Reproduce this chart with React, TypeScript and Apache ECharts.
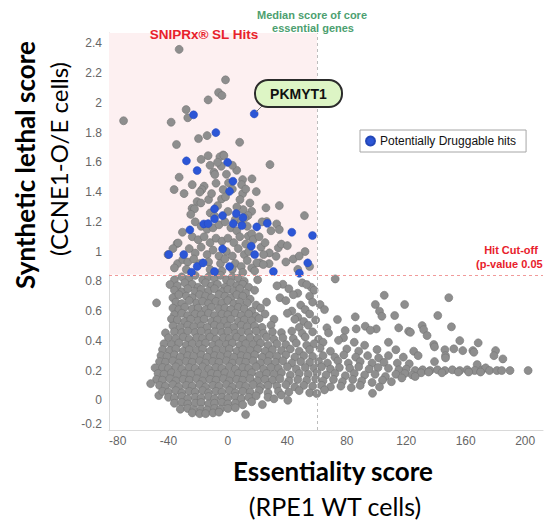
import React, { useEffect, useRef } from "react";
import * as echarts from "echarts";

const xTicks = [-80, -40, 0, 40, 80, 120, 160, 200];
const yTicks = [-0.2, 0, 0.2, 0.4, 0.6, 0.8, 1, 1.2, 1.4, 1.6, 1.8, 2, 2.2, 2.4];
const hitCutoff = 0.845;
const medianCoreEssential = 60;
const xRange = [-80, 212];
const yRange = [-0.2, 2.47];

// Potentially druggable hits (blue)
const druggableHits = [
  [17.7, 1.926], [-23.1, 1.92], [-8.1, 1.8], [-27.9, 1.61], [-0.2, 1.6], [-20.7, 1.545], [3.4, 1.473],
  [1.1, 1.405], [-9, 1.287], [5.6, 1.256], [-3.6, 1.242], [-9, 1.22], [10.1, 1.229], [26.5, 1.19],
  [-16.2, 1.186], [-13.3, 1.188], [3.6, 1.188], [9.4, 1.175], [19.4, 1.166], [43, 1.13], [56.9, 1.108],
  [-25.6, 1.146], [15.7, 1.036], [-3.6, 1.018], [18, 0.98], [-39.8, 0.98], [-29.7, 0.98], [-20.7, 0.9],
  [-16.7, 0.924], [-24.5, 0.861], [-9, 0.866], [1.1, 0.9], [30.6, 0.866], [48.1, 0.854], [53.7, 0.924],
];

// Genes above the hit cut-off (grey)
const grayUpper = [
  [-32.8, 2.36], [-70.2, 1.88], [-38.2, 1.87], [-28.1, 1.955], [-27, 1.9], [-13.3, 2.02], [-6.3, 2.07], [-4, 2.05],
  [-1.6, 2.155], [-19.8, 1.76], [-14, 1.78], [-34.6, 1.72], [7.9, 1.735], [-3.2, 1.65], [-18, 1.62], [-13.3, 1.645],
  [-5.4, 1.637], [-2.7, 1.646], [-4.5, 1.574], [-9.4, 1.533], [-8.8, 1.518], [-32.8, 1.5], [5.9, 1.547], [28.3, 1.585],
  [9.9, 1.484], [16.2, 1.489], [0.4, 1.462], [-16, 1.44], [-17.5, 1.417], [-18.9, 1.4], [-36.2, 1.417], [-29.5, 1.39],
  [-3.2, 1.417], [9.2, 1.45], [9.9, 1.39], [19.1, 1.403], [-4.3, 1.354], [-1.6, 1.368], [8.1, 1.35], [14.8, 1.327],
  [-20.7, 1.336], [-18.2, 1.327], [-24.1, 1.291], [-22.5, 1.287], [-6.9, 1.309], [-11.9, 1.26], [10.3, 1.282], [16, 1.271],
  [25.6, 1.294], [34.6, 1.309], [13.5, 1.242], [51.5, 1.242], [4.9, 1.215], [26.1, 1.202], [32.8, 1.186], [34.6, 1.148],
  [-30.6, 1.13], [-40.3, 0.98], [51.9, 1.0], [21.6, 0.924], [27.7, 0.919], [32.4, 0.968], [22.3, 1.029], [33.9, 1.025],
  [27.9, 0.991], [-33.9, 0.919], [-34.2, 1.054], [-30.4, 0.946], [-33.5, 1.058], [19.4, 0.924], [23.8, 0.913], [11.5, 1.227],
  [13.7, 1.103], [-22, 1.2], [-18, 1.17], [-14, 1.15], [-10, 1.16], [-6, 1.18], [-2, 1.2], [2, 1.16], [6, 1.14], [9, 1.2],
  [13, 1.17], [16, 1.12], [-24, 1.1], [-20, 1.08], [-16, 1.1], [-12, 1.06], [-8, 1.09], [-4, 1.07], [0, 1.09], [4, 1.06],
  [8, 1.1], [12, 1.05], [17, 1.08], [21, 1.1], [25, 1.06], [-26, 1.02], [-22, 0.99], [-18, 1.03], [-14, 0.98], [-10, 1.01],
  [-6, 0.97], [-1, 1.0], [3, 0.97], [7, 1.02], [11, 0.98], [14, 1.0], [24, 0.98], [-27, 0.93], [-23, 0.95], [-19, 0.92],
  [-13, 0.93], [-5, 0.92], [-2, 0.95], [5, 0.92], [9, 0.9], [13, 0.94], [16, 0.89], [-28, 0.88], [-12, 0.88], [-4, 0.87],
  [3, 0.88], [10, 0.86], [18, 0.87], [-36, 0.89], [39, 0.93], [44, 0.95], [36, 1.05], [29, 1.14], [-37, 1.02], [-25, 1.25],
  [-9, 1.24], [0, 1.27], [6, 1.3], [-13, 1.35], [3, 1.42], [-8, 1.46], [-11, 1.39], [12, 1.42], [-1, 1.52], [3, 1.58],
  [-24, 1.45], [-12, 1.58], [-7, 1.6], [23, 1.2], [40, 1.04], [48, 0.97], [55, 0.9], [47, 0.88],
];

// Upper part of the main cloud (about 0.5 to 0.85)
const grayCloudTop = [
  [-36, 0.81], [-31, 0.83], [-26, 0.82], [-22, 0.84], [-17, 0.81], [-13, 0.83], [-9, 0.82], [-5, 0.84], [-1, 0.81], [3, 0.83],
  [7, 0.82], [11, 0.8], [20, 0.81], [37, 0.78], [50, 0.79], [56, 0.76], [72.2, 0.816],
  [-39, 0.778], [-34, 0.77], [-29, 0.79], [-24, 0.78], [-20, 0.76], [-15, 0.79], [-11, 0.77], [-7, 0.78], [-2, 0.76], [2, 0.79],
  [6, 0.77], [10, 0.78], [14, 0.76], [33, 0.77], [53, 0.778], [58, 0.74],
  [-36, 0.74], [-31, 0.73], [-27, 0.75], [-22, 0.73], [-18, 0.745], [-13, 0.735], [-9, 0.75], [-4, 0.73], [0, 0.745], [4, 0.735],
  [8, 0.75], [12, 0.72], [18, 0.74], [41, 0.75], [47, 0.72],
  [-37, 0.69], [-33, 0.71], [-28, 0.7], [-24, 0.69], [-19, 0.71], [-15, 0.7], [-11, 0.69], [-6, 0.71], [-2, 0.7], [2, 0.69],
  [6, 0.71], [10, 0.7], [15, 0.68], [35, 0.69], [44, 0.71], [55, 0.7], [105.2, 0.706], [148.6, 0.69],
  [-48, 0.655], [-35, 0.66], [-31, 0.65], [-26, 0.67], [-21, 0.655], [-17, 0.665], [-13, 0.65], [-8, 0.665], [-4, 0.655], [0, 0.67],
  [4, 0.65], [8, 0.66], [13, 0.655], [19, 0.64], [26, 0.66], [39, 0.67], [49, 0.64], [57, 0.66], [62, 0.644],
  [99.2, 0.644], [118.9, 0.644],
  [-37, 0.62], [-33, 0.61], [-29, 0.625], [-24, 0.615], [-20, 0.62], [-15, 0.61], [-11, 0.625], [-6, 0.615], [-2, 0.62], [2, 0.61],
  [7, 0.625], [11, 0.615], [16, 0.6], [22, 0.62], [43, 0.6], [52, 0.61], [65, 0.61], [102, 0.599],
  [-36, 0.575], [-31, 0.585], [-27, 0.57], [-22, 0.58], [-18, 0.575], [-13, 0.585], [-9, 0.57], [-4, 0.58], [0, 0.575], [5, 0.585],
  [9, 0.57], [14, 0.58], [19, 0.565], [25, 0.58], [40, 0.585], [47, 0.56], [55, 0.58], [85.7, 0.561],
  [-38, 0.547], [-34, 0.54], [-29, 0.53], [-25, 0.545], [-20, 0.535], [-16, 0.545], [-11, 0.53], [-7, 0.54], [-2, 0.535], [2, 0.545],
  [7, 0.53], [11, 0.54], [16, 0.535], [21, 0.55], [31, 0.545], [45, 0.545], [51, 0.53], [59, 0.54],
  [73.7, 0.543], [103.6, 0.565], [112.2, 0.57], [141.2, 0.57],
];

// Middle part of the main cloud (about 0.2 to 0.5)
const grayCloudMid = [
  [-37, 0.5], [-32, 0.49], [-27, 0.505], [-23, 0.495], [-18, 0.5], [-14, 0.49], [-9, 0.505], [-5, 0.495], [0, 0.5], [4, 0.49],
  [9, 0.505], [13, 0.495], [18, 0.5], [23, 0.49], [29, 0.505], [48, 0.49], [54, 0.505], [66.6, 0.487],
  [78.9, 0.469], [86.3, 0.48], [92.4, 0.498], [99.8, 0.48], [114.9, 0.487], [130.7, 0.502], [150.4, 0.494],
  [-42, 0.453], [-36, 0.46], [-31, 0.455], [-27, 0.465], [-22, 0.455], [-18, 0.465], [-13, 0.45], [-9, 0.46], [-4, 0.455], [0, 0.465],
  [5, 0.45], [9, 0.46], [14, 0.455], [19, 0.465], [24, 0.45], [30, 0.46], [36, 0.455], [43, 0.465], [50, 0.45], [57, 0.46],
  [67.7, 0.453], [95.8, 0.471], [121.6, 0.464], [131.7, 0.475],
  [-40, 0.42], [-35, 0.415], [-30, 0.425], [-26, 0.41], [-21, 0.42], [-17, 0.415], [-12, 0.425], [-8, 0.41], [-3, 0.42], [1, 0.415],
  [6, 0.425], [10, 0.41], [15, 0.42], [20, 0.415], [26, 0.425], [31, 0.41], [37, 0.42], [44, 0.415], [52, 0.425], [61, 0.41],
  [77.8, 0.42], [134, 0.435], [122.8, 0.457],
  [-43, 0.38], [-38, 0.375], [-33, 0.385], [-28, 0.37], [-24, 0.38], [-19, 0.375], [-15, 0.385], [-10, 0.37], [-6, 0.38], [-1, 0.375],
  [3, 0.385], [8, 0.37], [12, 0.38], [17, 0.375], [22, 0.385], [27, 0.37], [33, 0.38], [39, 0.375], [46, 0.385], [53, 0.37],
  [58, 0.38], [64, 0.39], [74.4, 0.403], [85, 0.39], [92, 0.37], [108, 0.39], [138.5, 0.375], [156, 0.401], [168.4, 0.386],
  [-44, 0.34], [-39, 0.335], [-35, 0.345], [-30, 0.33], [-26, 0.34], [-21, 0.335], [-17, 0.345], [-12, 0.33], [-8, 0.34], [-3, 0.335],
  [1, 0.345], [6, 0.33], [10, 0.34], [15, 0.335], [20, 0.345], [25, 0.33], [30, 0.34], [36, 0.335], [42, 0.345], [48, 0.33],
  [55, 0.34], [62, 0.35], [69, 0.33], [80, 0.345], [88, 0.33], [100.3, 0.341], [113, 0.34], [125, 0.33], [139, 0.359], [146, 0.34],
  [152, 0.346], [158, 0.334], [164.8, 0.334], [180.1, 0.334],
  [-45, 0.3], [-41, 0.295], [-36, 0.305], [-32, 0.29], [-27, 0.3], [-23, 0.295], [-18, 0.305], [-14, 0.29], [-9, 0.3], [-5, 0.295],
  [0, 0.305], [4, 0.29], [9, 0.3], [13, 0.295], [18, 0.305], [23, 0.29], [28, 0.3], [33, 0.295], [39, 0.305], [45, 0.29],
  [51, 0.3], [57, 0.295], [64, 0.3], [72, 0.29], [78, 0.305], [86, 0.29], [94, 0.3], [101.4, 0.285], [108, 0.3], [118, 0.29],
  [128, 0.3], [146.4, 0.3], [165.5, 0.323], [179, 0.3], [185, 0.278],
  [-46, 0.26], [-42, 0.255], [-37, 0.265], [-33, 0.25], [-28, 0.26], [-24, 0.255], [-19, 0.265], [-15, 0.25], [-10, 0.26], [-6, 0.255],
  [-1, 0.265], [3, 0.25], [8, 0.26], [12, 0.255], [17, 0.265], [22, 0.25], [27, 0.26], [32, 0.255], [37, 0.265], [43, 0.25],
  [49, 0.26], [55, 0.255], [61, 0.26], [67, 0.25], [74, 0.265], [81, 0.25], [89, 0.26], [97, 0.25], [105, 0.255], [114, 0.25],
  [122, 0.245], [139, 0.26], [146.4, 0.285], [167.7, 0.24],
  [-49, 0.218], [-44, 0.22], [-40, 0.215], [-35, 0.225], [-31, 0.21], [-26, 0.22], [-22, 0.215], [-17, 0.225], [-13, 0.21], [-8, 0.22],
  [-4, 0.215], [1, 0.225], [5, 0.21], [10, 0.22], [14, 0.215], [19, 0.225], [24, 0.21], [29, 0.22], [34, 0.215], [40, 0.225],
  [46, 0.21], [52, 0.22], [58, 0.215], [63, 0.225], [69, 0.21], [75, 0.22], [82, 0.215], [88, 0.225], [95, 0.21], [101, 0.22],
  [108, 0.215], [115, 0.205], [120, 0.21], [126, 0.2], [131, 0.205], [136, 0.2], [141, 0.205], [146, 0.2], [151, 0.205], [156, 0.2],
  [161, 0.205], [166, 0.2], [171, 0.205], [173.4, 0.218], [176, 0.2], [181, 0.2], [184.2, 0.2], [189.8, 0.2], [202, 0.2],
];

// Lower part of the main cloud (below 0.2)
const grayCloudLow = [
  [-47, 0.18], [-43, 0.175], [-38, 0.185], [-34, 0.17], [-29, 0.18], [-25, 0.175], [-20, 0.185], [-16, 0.17], [-11, 0.18], [-7, 0.175],
  [-2, 0.185], [2, 0.17], [7, 0.18], [11, 0.175], [16, 0.185], [21, 0.17], [26, 0.18], [31, 0.175], [36, 0.185], [42, 0.17],
  [48, 0.18], [54, 0.175], [60, 0.185], [66, 0.17], [72, 0.18], [79, 0.165], [85, 0.18], [92, 0.17], [99, 0.175], [106, 0.16],
  [113, 0.175], [119, 0.18], [124, 0.17], [130, 0.185], [135, 0.19], [144, 0.185], [155, 0.19], [162, 0.19], [170, 0.19],
  [-48, 0.14], [-44, 0.135], [-39, 0.145], [-35, 0.13], [-30, 0.14], [-26, 0.135], [-21, 0.145], [-17, 0.13], [-12, 0.14], [-8, 0.135],
  [-3, 0.145], [1, 0.13], [6, 0.14], [10, 0.135], [15, 0.145], [20, 0.13], [25, 0.14], [30, 0.135], [35, 0.145], [41, 0.13],
  [47, 0.14], [53, 0.135], [59, 0.145], [64, 0.13], [71, 0.14], [77, 0.125], [84, 0.14], [90, 0.13], [97, 0.12], [104, 0.135],
  [110, 0.125], [117, 0.15], [126, 0.16],
  [-52, 0.112], [-46, 0.1], [-42, 0.095], [-37, 0.105], [-33, 0.09], [-28, 0.1], [-24, 0.095], [-19, 0.105], [-15, 0.09], [-10, 0.1],
  [-6, 0.095], [-1, 0.105], [3, 0.09], [8, 0.1], [12, 0.095], [17, 0.105], [22, 0.09], [27, 0.1], [33, 0.095], [39, 0.105],
  [45, 0.09], [51, 0.1], [57, 0.095], [63, 0.1], [69, 0.09], [76, 0.095], [83, 0.085], [89, 0.1], [102, 0.09],
  [-46.5, 0.032], [-44, 0.06], [-40, 0.055], [-35, 0.065], [-31, 0.05], [-26, 0.06], [-22, 0.055], [-17, 0.065], [-13, 0.05], [-8, 0.06],
  [-4, 0.055], [1, 0.065], [5, 0.05], [10, 0.06], [15, 0.055], [21, 0.065], [27, 0.05], [34, 0.06], [41, 0.055], [48, 0.065],
  [55, 0.05], [59.8, 0.045], [97.3, 0.047], [65, 0.07],
  [-40, 0.02], [-36, 0.015], [-31, 0.025], [-27, 0.01], [-22, 0.02], [-18, 0.015], [-13, 0.025], [-9, 0.01], [-4, 0.02], [0, 0.015],
  [5, 0.025], [9, 0.01], [14, 0.02], [19, 0.03], [27, 0.02], [36, 0.035], [40.3, 0.0], [31, 0.01],
  [-36, -0.02], [-31, -0.015], [-27, -0.025], [-22, -0.02], [-18, -0.015], [-13, -0.025], [-9, -0.02], [-4, -0.015], [0, -0.025],
  [5, -0.02], [10, -0.03], [23.2, -0.029], [16, -0.01],
  [-32, -0.06], [-27, -0.055], [-23, -0.065], [-18, -0.06], [-14, -0.065], [-9, -0.055], [-5, -0.06], [0, -0.055], [5, -0.05],
  [11.9, -0.096], [-24, -0.085], [-19, -0.09], [-15, -0.09], [-10, -0.085], [-6, -0.08],
];

const allGray = [...grayUpper, ...grayCloudTop, ...grayCloudMid, ...grayCloudLow];

const RED = "#e8212b";
const GREEN = "#4d9f70";
const TICK_FONT = "Liberation Sans";

export default function App() {
  const ref = useRef<HTMLDivElement>(null);

  useEffect(() => {
    const chart = echarts.init(ref.current!, null, { renderer: "svg" });
    chart.setOption({
      animation: false,
      backgroundColor: "#ffffff",
      grid: { left: 109, right: 4, top: 33, bottom: 92 },
      legend: {
        data: [{ name: "Potentially Druggable hits", icon: "circle" }],
        left: 360,
        top: 130,
        selectedMode: false,
        borderColor: "#a6a6a6",
        borderWidth: 1,
        padding: [5, 10, 5, 5],
        itemWidth: 9,
        itemHeight: 9,
        itemGap: 6,
        textStyle: { fontSize: 12, color: "#111", fontFamily: TICK_FONT },
      },
      xAxis: {
        type: "value",
        min: xRange[0],
        max: xRange[1],
        interval: 40,
        splitLine: { show: false },
        axisTick: { show: false },
        axisLine: { show: true, onZero: false, lineStyle: { color: "#d9d9d9" } },
        axisLabel: {
          customValues: xTicks,
          color: "#666666",
          fontSize: 12,
          fontFamily: TICK_FONT,
          margin: 5,
          alignMinLabel: "left",
        },
      },
      yAxis: {
        type: "value",
        min: yRange[0],
        max: yRange[1],
        splitLine: { show: false },
        axisTick: { show: false },
        axisLine: { show: true, onZero: false, lineStyle: { color: "#d9d9d9" } },
        axisLabel: {
          customValues: yTicks,
          color: "#666666",
          fontSize: 12,
          fontFamily: TICK_FONT,
          margin: 7,
          verticalAlignMinLabel: "bottom",
        },
      },
      series: [
        {
          name: "genes",
          type: "scatter",
          symbol: "circle",
          symbolSize: 8,
          z: 2,
          silent: true,
          emphasis: { disabled: true },
          itemStyle: { color: "#8e8e8e", borderColor: "#767676", borderWidth: 0.6, opacity: 1 },
          data: allGray,
          markArea: {
            silent: true,
            itemStyle: { color: "#fdf0f1" },
            data: [[{ coord: [xRange[0], hitCutoff] }, { coord: [medianCoreEssential, yRange[1]] }]],
          },
          markLine: {
            silent: true,
            symbol: ["none", "none"],
            label: { show: false },
            data: [
              { xAxis: medianCoreEssential, lineStyle: { color: "#bdbdbd", type: [3, 3], width: 1 } },
              { yAxis: hitCutoff, lineStyle: { color: "#f19a9a", type: [3, 3], width: 1 } },
            ],
          },
        },
        {
          name: "Potentially Druggable hits",
          type: "scatter",
          symbol: "circle",
          symbolSize: 8,
          z: 3,
          silent: true,
          emphasis: { disabled: true },
          itemStyle: { color: "#2c56d6", borderColor: "#2347b8", borderWidth: 0.5, opacity: 1 },
          data: druggableHits,
        },
      ],
      graphic: [
        {
          type: "text", x: 204, y: 34, z: 10,
          style: { text: "SNIPRx® SL Hits", fill: RED, font: `bold 13.5px "${TICK_FONT}"`, align: "center", verticalAlign: "middle" },
        },
        {
          type: "text", x: 312, y: 15, z: 10,
          style: { text: "Median score of core", fill: GREEN, font: `bold 11px "${TICK_FONT}"`, align: "center", verticalAlign: "middle" },
        },
        {
          type: "text", x: 313, y: 28, z: 10,
          style: { text: "essential genes", fill: GREEN, font: `bold 11px "${TICK_FONT}"`, align: "center", verticalAlign: "middle" },
        },
        {
          type: "line", z: 10,
          shape: { x1: 256, y1: 112, x2: 263, y2: 105 },
          style: { stroke: "#777", lineWidth: 1 },
        },
        {
          type: "rect", z: 10,
          shape: { x: 255, y: 80, width: 87, height: 27, r: 13 },
          style: { fill: "#ddf5c5", stroke: "#2b2b2b", lineWidth: 2 },
        },
        {
          type: "text", x: 298.5, y: 94, z: 11,
          style: { text: "PKMYT1", fill: "#111", font: `bold 14px "${TICK_FONT}"`, align: "center", verticalAlign: "middle" },
        },
        {
          type: "text", x: 511, y: 250, z: 10,
          style: { text: "Hit Cut-off", fill: RED, font: `bold 11px "${TICK_FONT}"`, align: "center", verticalAlign: "middle" },
        },
        {
          type: "text", x: 476, y: 264, z: 10,
          style: { text: "(p-value 0.05", fill: RED, font: `bold 11px "${TICK_FONT}"`, align: "left", verticalAlign: "middle" },
        },
        {
          type: "text", x: 25, y: 165, rotation: Math.PI / 2, z: 10,
          style: { text: "Synthetic lethal score", fill: "#000", font: "bold 26px Lato", align: "center", verticalAlign: "middle" },
        },
        {
          type: "text", x: 58, y: 159, rotation: Math.PI / 2, z: 10,
          style: { text: "(CCNE1-O/E cells)", fill: "#000", font: "24px Lato", align: "center", verticalAlign: "middle" },
        },
        {
          type: "text", x: 333, y: 471, z: 10,
          style: { text: "Essentiality score", fill: "#000", font: "bold 26px Lato", align: "center", verticalAlign: "middle" },
        },
        {
          type: "text", x: 335, y: 506, z: 10,
          style: { text: "(RPE1 WT cells)", fill: "#000", font: "25px Lato", align: "center", verticalAlign: "middle" },
        },
      ],
    });
    return () => chart.dispose();
  }, []);

  return <div ref={ref} style={{ position: "fixed", left: 0, top: 0, width: 547, height: 522 }} />;
}
